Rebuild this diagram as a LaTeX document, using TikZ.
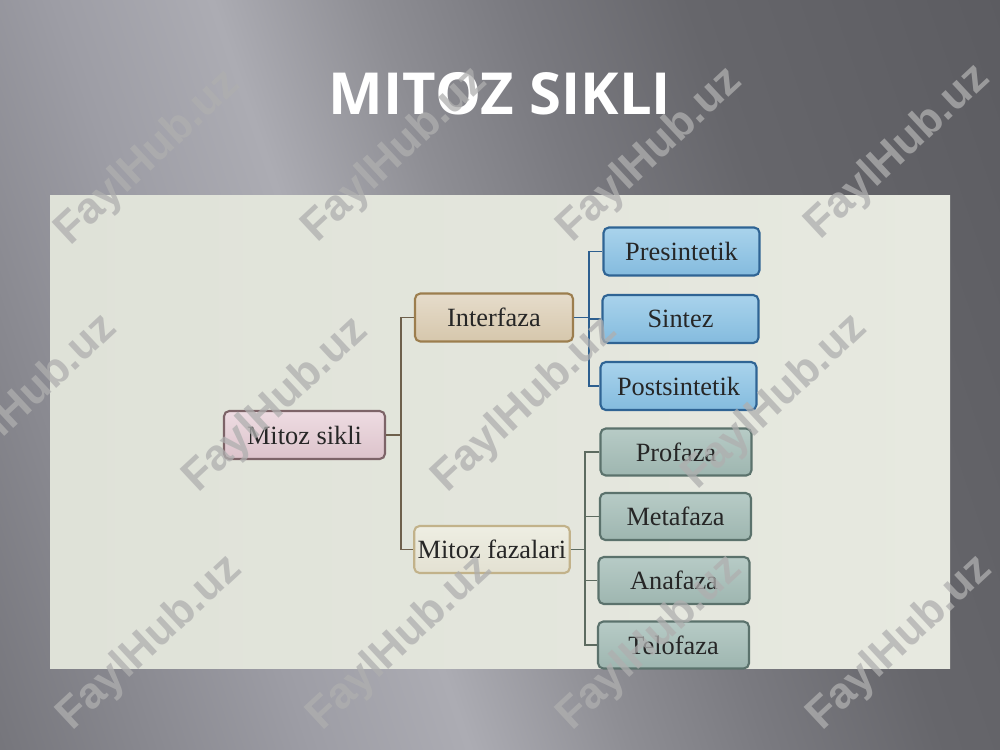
\documentclass[tikz,border=0pt]{standalone}
\usepackage{fontspec}
\setmainfont{Liberation Serif}
\newfontfamily\titlefont{Open Sans}
\newfontfamily\markfont{Liberation Sans}

% slide colours
\definecolor{slideA}{HTML}{75757B}
\definecolor{slideB}{HTML}{9D9DA5}
\definecolor{slideC}{HTML}{ACACB3}
\definecolor{slideD}{HTML}{8E8E94}
\definecolor{slideE}{HTML}{7A7A80}
\definecolor{slideF}{HTML}{66666B}
\definecolor{slideG}{HTML}{5C5C61}
\definecolor{photoL}{HTML}{DFE2D8}
\definecolor{photoR}{HTML}{E7E9E0}
\definecolor{inkdark}{HTML}{262626}
\definecolor{markgray}{HTML}{AFAFAF}
% box colours
\definecolor{rootT}{HTML}{EEDCE2}
\definecolor{rootB}{HTML}{DCC3CB}
\definecolor{rootD}{HTML}{7D6468}
\definecolor{interT}{HTML}{E6DCCB}
\definecolor{interB}{HTML}{D6C7AC}
\definecolor{interD}{HTML}{9C7E4E}
\definecolor{phaseT}{HTML}{EEEEE3}
\definecolor{phaseB}{HTML}{E3E1D2}
\definecolor{phaseD}{HTML}{C2B28A}
\definecolor{blueT}{HTML}{A9D3EC}
\definecolor{blueB}{HTML}{84BBDE}
\definecolor{blueD}{HTML}{2F6494}
\definecolor{greenT}{HTML}{B7CBC6}
\definecolor{greenB}{HTML}{9EB6B0}
\definecolor{greenD}{HTML}{5B726C}
\definecolor{rootline}{HTML}{6E604C}
\definecolor{blueline}{HTML}{2D5F8F}
\definecolor{greenline}{HTML}{5D6B60}

\pgfdeclarehorizontalshading{slidebg}{100bp}{color(0bp)=(slideA); color(18bp)=(slideA);
  color(34bp)=(slideB); color(42bp)=(slideC); color(50bp)=(slideD); color(57bp)=(slideE);
  color(66bp)=(slideF); color(82bp)=(slideG); color(100bp)=(slideG)}

\begin{document}
\begin{tikzpicture}[x=0.02cm, y=-0.02cm,
    box/.style={draw, rounded corners=3pt, line width=1.2pt, minimum height=0.96cm,
      font=\fontsize{15}{18}\selectfont, text=inkdark, inner sep=2pt},
    rootbox/.style={box, minimum width=3.22cm, top color=rootT, bottom color=rootB, draw=rootD},
    interbox/.style={box, minimum width=3.16cm, top color=interT, bottom color=interB, draw=interD},
    phasebox/.style={box, minimum width=3.08cm, minimum height=0.94cm, top color=phaseT, bottom color=phaseB, draw=phaseD},
    blueleaf/.style={box, minimum width=3.12cm, top color=blueT, bottom color=blueB, draw=blueD},
    greenleaf/.style={box, minimum width=3.02cm, minimum height=0.94cm, top color=greenT, bottom color=greenB, draw=greenD},
    link/.style={line width=1pt},
    wmark/.style={text=markgray, opacity=0.75, font=\markfont\bfseries\fontsize{25}{30}\selectfont, rotate=43}]

    % background of the slide
    \path[use as bounding box] (0,0) rectangle (1000,750);
    \shade[shading=slidebg, shading angle=19] (0,0) rectangle (1000,750);

    % title
    \node[font=\titlefont\bfseries\fontsize{33}{40}\selectfont, text=white] (title) at (500,94) {MITOZ SIKLI};

    % the photo
    \shade[left color=photoL, right color=photoR] (50,195) rectangle (950,668);

    % boxes
    \node[rootbox] (sikli) at (304.5,435) {Mitoz sikli};
    \node[interbox] (inter) at (494,317.5) {Interfaza};
    \node[phasebox] (fazalar) at (492,549.5) {Mitoz fazalari};

    \node[blueleaf] (presint) at (681.5,251.5) {Presintetik};
    \node[blueleaf] (sintez) at (680.5,319) {Sintez};
    \node[blueleaf] (postsint) at (678.5,386) {Postsintetik};

    \node[greenleaf] (profaza) at (676,452) {Profaza};
    \node[greenleaf] (metafaza) at (675.5,516.5) {Metafaza};
    \node[greenleaf] (anafaza) at (674,580.5) {Anafaza};
    \node[greenleaf] (telofaza) at (673.5,645) {Telofaza};

    % connectors
    \draw[link, draw=rootline] (sikli.east) -- ++(15,0) coordinate (hubA);
    \draw[link, draw=rootline] (hubA) |- (inter.west);
    \draw[link, draw=rootline] (hubA) |- (fazalar.west);

    \draw[link, draw=blueline] (inter.east) -- ++(15,0) coordinate (hubB);
    \draw[link, draw=blueline] (hubB) |- (presint.west);
    \draw[link, draw=blueline] (hubB) |- (sintez.west);
    \draw[link, draw=blueline] (hubB) |- (postsint.west);

    \draw[link, draw=greenline] (fazalar.east) -- ++(14,0) coordinate (hubC);
    \draw[link, draw=greenline] (hubC) |- (profaza.west);
    \draw[link, draw=greenline] (hubC) |- (metafaza.west);
    \draw[link, draw=greenline] (hubC) |- (anafaza.west);
    \draw[link, draw=greenline] (hubC) |- (telofaza.west);

    % watermarks
    \path (148,158) node[wmark] (wmA) {FaylHub.uz}
          (395,155) node[wmark] (wmB) {FaylHub.uz}
          (650,155) node[wmark] (wmC) {FaylHub.uz}
          (898,152) node[wmark] (wmD) {FaylHub.uz}
          (25,402)  node[wmark] (wmE) {FaylHub.uz}
          (276,405) node[wmark] (wmF) {FaylHub.uz}
          (525,405) node[wmark] (wmG) {FaylHub.uz}
          (775,402) node[wmark] (wmH) {FaylHub.uz}
          (150,643) node[wmark] (wmI) {FaylHub.uz}
          (400,643) node[wmark] (wmJ) {FaylHub.uz}
          (650,643) node[wmark] (wmK) {FaylHub.uz}
          (900,643) node[wmark] (wmL) {FaylHub.uz};
\end{tikzpicture}
\end{document}
